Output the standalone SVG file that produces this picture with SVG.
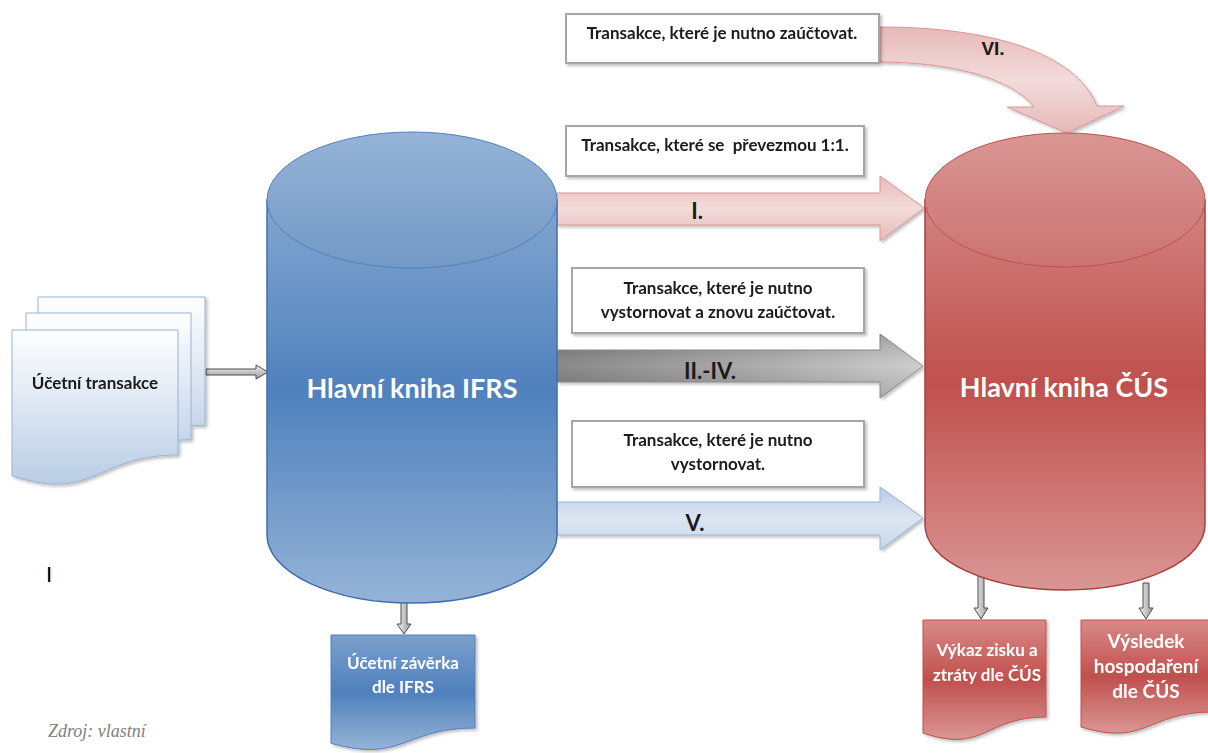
<svg xmlns="http://www.w3.org/2000/svg" width="1208" height="753" viewBox="0 0 1208 753">
  <style>
    .lbl { font-family: Lato, "Open Sans", "Liberation Sans", sans-serif; font-weight: bold; }
    .dark { fill: #1a1a1a; }
    .white { fill: #ffffff; }
    .box { fill: #ffffff; stroke: #a6a6a6; stroke-width: 2; }
    .small-arrow { fill: url(#gSmall); stroke: #4d4d4d; stroke-width: 1; }
  </style>
  <defs>
    <linearGradient id="gBlueTop" x1="0" y1="0" x2="0" y2="1">
      <stop offset="0" stop-color="#95b3d7"/>
      <stop offset="1" stop-color="#7399c6"/>
    </linearGradient>
    <linearGradient id="gBlueBody" x1="0" y1="132" x2="0" y2="603" gradientUnits="userSpaceOnUse">
      <stop offset="0" stop-color="#95b3d7"/>
      <stop offset="0.55" stop-color="#4f81bd"/>
      <stop offset="1" stop-color="#95b3d7"/>
    </linearGradient>
    <linearGradient id="gRedTop" x1="0" y1="0" x2="0" y2="1">
      <stop offset="0" stop-color="#da9694"/>
      <stop offset="1" stop-color="#cb7371"/>
    </linearGradient>
    <linearGradient id="gRedBody" x1="0" y1="133" x2="0" y2="590" gradientUnits="userSpaceOnUse">
      <stop offset="0" stop-color="#da9694"/>
      <stop offset="0.55" stop-color="#c0504d"/>
      <stop offset="1" stop-color="#da9694"/>
    </linearGradient>
    <linearGradient id="gPink" x1="0" y1="0" x2="0" y2="1">
      <stop offset="0" stop-color="#e6b9b8"/>
      <stop offset="0.5" stop-color="#f2dcdb"/>
      <stop offset="1" stop-color="#e6b9b8"/>
    </linearGradient>
    <linearGradient id="gGray" x1="0" y1="0" x2="1" y2="0">
      <stop offset="0" stop-color="#7a7a7a"/>
      <stop offset="0.6" stop-color="#a6a6a6"/>
      <stop offset="1" stop-color="#c8c8c8"/>
    </linearGradient>
    <linearGradient id="gGrayShade" x1="0" y1="0" x2="0" y2="1">
      <stop offset="0" stop-color="#000" stop-opacity="0.18"/>
      <stop offset="0.5" stop-color="#fff" stop-opacity="0.12"/>
      <stop offset="1" stop-color="#000" stop-opacity="0.1"/>
    </linearGradient>
    <linearGradient id="gLightBlue" x1="0" y1="0" x2="0" y2="1">
      <stop offset="0" stop-color="#b9cde5"/>
      <stop offset="0.5" stop-color="#dce6f2"/>
      <stop offset="1" stop-color="#c6d7eb"/>
    </linearGradient>
    <linearGradient id="gPaper" x1="0" y1="0" x2="0" y2="1">
      <stop offset="0" stop-color="#ffffff"/>
      <stop offset="1" stop-color="#b9cde5"/>
    </linearGradient>
    <linearGradient id="gDocBlue" x1="0" y1="0" x2="0" y2="1">
      <stop offset="0" stop-color="#7ba0cd"/>
      <stop offset="0.5" stop-color="#4f81bd"/>
      <stop offset="1" stop-color="#95b3d7"/>
    </linearGradient>
    <linearGradient id="gDocRed" x1="0" y1="0" x2="0" y2="1">
      <stop offset="0" stop-color="#d88a88"/>
      <stop offset="0.5" stop-color="#c0504d"/>
      <stop offset="1" stop-color="#da9694"/>
    </linearGradient>
    <linearGradient id="gSmall" x1="0" y1="0" x2="1" y2="0">
      <stop offset="0" stop-color="#f2f2f2"/>
      <stop offset="1" stop-color="#9a9a9a"/>
    </linearGradient>
    <linearGradient id="gSmallH" x1="0" y1="0" x2="0" y2="1">
      <stop offset="0" stop-color="#f2f2f2"/>
      <stop offset="1" stop-color="#9a9a9a"/>
    </linearGradient>
    <filter id="shadow" x="-10%" y="-10%" width="125%" height="125%">
      <feDropShadow dx="2" dy="2" stdDeviation="1.5" flood-color="#000" flood-opacity="0.25"/>
    </filter>
  </defs>

  <!-- connectors -->
  <g id="connectors">
    <!-- documents to IFRS ledger -->
    <path d="M206,369 H256 V365 L268,372 L256,379 V375 H206 Z" fill="url(#gSmallH)" stroke="#4d4d4d" stroke-width="1"/>
    <!-- I. -->
    <path d="M557,193 H880 V176 L924,208 L880,241 V225 H557 Z" fill="url(#gPink)" stroke="#d99694" stroke-width="1" filter="url(#shadow)"/>
    <!-- II.-IV. -->
    <path d="M557,350 H880 V334 L923,366 L880,398 V382 H557 Z" fill="url(#gGray)" stroke="#8c8c8c" stroke-width="1" filter="url(#shadow)"/>
    <path d="M557,350 H880 V334 L923,366 L880,398 V382 H557 Z" fill="url(#gGrayShade)"/>
    <!-- V. -->
    <path d="M557,502 H880 V487 L923,518 L880,550 V535 H557 Z" fill="url(#gLightBlue)" stroke="#95b3d7" stroke-width="1" filter="url(#shadow)"/>
    <!-- VI. curved -->
    <path d="M880,27 C990,27 1075,52 1097,106 L1124,106 L1067,133 L1007,107 L1034,107 C1012,78 950,62 880,62 Z" fill="url(#gPink)" stroke="#d99694" stroke-width="1" filter="url(#shadow)"/>
    <!-- ledgers to statements -->
    <path class="small-arrow" d="M401,600 V624 H397 L404,634 L411,624 H407 V600 Z"/>
    <path class="small-arrow" d="M978,575 V608 H974 L981,619 L988,608 H984 V575 Z"/>
    <path class="small-arrow" d="M1143,583 V608 H1139 L1146,619 L1153,608 H1149 V583 Z"/>
  </g>

  <g class="lbl" font-size="22" text-anchor="middle">
    <text class="dark" x="697" y="219">I.</text>
    <text class="dark" x="710" y="379">II.-IV.</text>
    <text class="dark" x="695" y="531">V.</text>
    <text class="dark" x="993" y="55" font-size="19" font-family="'Liberation Sans', sans-serif">VI.</text>
  </g>

  <!-- accounting transactions: stacked documents -->
  <g id="ucetni-transakce" filter="url(#shadow)">
    <path d="M38,297 H205 V425.3 C121.5,425.3 121.5,474.2 38,446.4 Z" fill="url(#gPaper)" stroke="#95b3d7" stroke-width="1"/>
    <path d="M26,313 H191 V439.7 C108.5,439.7 108.5,487.9 26,460.6 Z" fill="url(#gPaper)" stroke="#95b3d7" stroke-width="1"/>
    <path d="M12,330 H178 V455 C95,455 95,502.8 12,475.8 Z" fill="url(#gPaper)" stroke="#95b3d7" stroke-width="1"/>
    <text class="lbl dark" x="95" y="389" font-size="17" text-anchor="middle">Účetní transakce</text>
  </g>

  <!-- IFRS general ledger -->
  <g id="hlavni-kniha-ifrs">
    <path d="M267,200 V535 A145,68 0 0 0 557,535 V200 Z" fill="url(#gBlueBody)" stroke="#3f6fa8" stroke-width="1.5"/>
    <ellipse cx="412" cy="200" rx="145" ry="68" fill="url(#gBlueTop)" stroke="#4f81bd" stroke-width="1"/>
    <text class="lbl white" x="412" y="398" font-size="27" text-anchor="middle">Hlavní kniha IFRS</text>
  </g>

  <!-- CAS general ledger -->
  <g id="hlavni-kniha-cus">
    <path d="M925,200 V525 A140,65 0 0 0 1205,525 V200 Z" fill="url(#gRedBody)" stroke="#a5403d" stroke-width="1.5"/>
    <ellipse cx="1065" cy="200" rx="140" ry="67" fill="url(#gRedTop)" stroke="#c0504d" stroke-width="1"/>
    <text class="lbl white" x="1064" y="397" font-size="27" text-anchor="middle">Hlavní kniha ČÚS</text>
  </g>

  <!-- transaction description boxes -->
  <g id="box-vi" filter="url(#shadow)">
    <rect class="box" x="566" y="14" width="313" height="49"/>
    <text class="lbl dark" x="722" y="39" font-size="17" text-anchor="middle">Transakce, které je nutno zaúčtovat.</text>
  </g>
  <g id="box-i" filter="url(#shadow)">
    <rect class="box" x="566" y="126" width="298" height="50"/>
    <text class="lbl dark" x="715" y="151" font-size="17" text-anchor="middle" xml:space="preserve">Transakce, které se  převezmou 1:1.</text>
  </g>
  <g id="box-ii-iv" filter="url(#shadow)">
    <rect class="box" x="572" y="268" width="292" height="65"/>
    <text class="lbl dark" x="718" y="294" font-size="17" text-anchor="middle">Transakce, které je nutno</text>
    <text class="lbl dark" x="718" y="318" font-size="17" text-anchor="middle">vystornovat a znovu zaúčtovat.</text>
  </g>
  <g id="box-v" filter="url(#shadow)">
    <rect class="box" x="572" y="421" width="292" height="66"/>
    <text class="lbl dark" x="718" y="446" font-size="17" text-anchor="middle">Transakce, které je nutno</text>
    <text class="lbl dark" x="718" y="470" font-size="17" text-anchor="middle">vystornovat.</text>
  </g>

  <!-- output statements -->
  <g id="zaverka-ifrs" filter="url(#shadow)">
    <path d="M331,635 H475 V728 C403,728 403,763.5 331,743.3 Z" fill="url(#gDocBlue)" stroke="#4f81bd" stroke-width="1"/>
    <text class="lbl white" x="403" y="669" font-size="17" text-anchor="middle">Účetní závěrka</text>
    <text class="lbl white" x="403" y="693" font-size="17" text-anchor="middle">dle IFRS</text>
  </g>
  <g id="vykaz-cus" filter="url(#shadow)">
    <path d="M923,620 H1046 V717 C984.5,717 984.5,754 923,733 Z" fill="url(#gDocRed)" stroke="#c0504d" stroke-width="1"/>
    <text class="lbl white" x="987" y="656" font-size="17" text-anchor="middle">Výkaz zisku a</text>
    <text class="lbl white" x="987" y="681" font-size="17" text-anchor="middle">ztráty dle ČÚS</text>
  </g>
  <g id="vysledek-cus" filter="url(#shadow)">
    <path d="M1081,620 H1212 V712 C1146.5,712 1146.5,747 1081,727 Z" fill="url(#gDocRed)" stroke="#c0504d" stroke-width="1"/>
    <text class="lbl white" x="1146" y="648" font-size="19" text-anchor="middle">Výsledek</text>
    <text class="lbl white" x="1146" y="673" font-size="19" text-anchor="middle">hospodaření</text>
    <text class="lbl white" x="1146" y="698" font-size="19" text-anchor="middle">dle ČÚS</text>
  </g>

  <text x="46" y="582" font-family="Lato, 'Liberation Sans', sans-serif" font-size="22" fill="#000">I</text>
  <text x="48" y="737" font-family="'Liberation Serif', serif" font-style="italic" font-size="18" fill="#808080">Zdroj: vlastní</text>
</svg>
